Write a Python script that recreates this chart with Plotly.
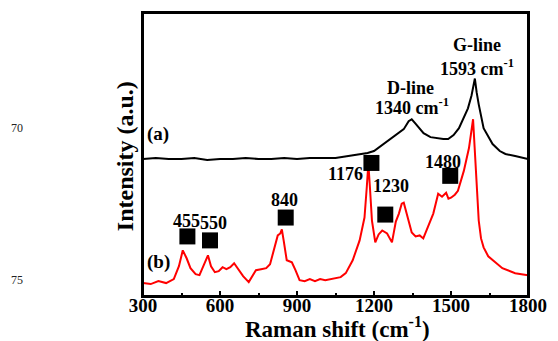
import plotly.graph_objects as go

# ---- data ----
a_x = [300, 350, 400, 450, 500, 550, 600, 650, 700, 750, 800, 850, 900, 950, 1000,
       1050, 1100, 1150, 1175, 1200, 1251, 1290, 1316, 1335, 1347, 1360, 1393, 1420,
       1443, 1470, 1489, 1510, 1531, 1550, 1566, 1580, 1593, 1600, 1608, 1627, 1645,
       1662, 1690, 1712, 1750, 1800]
a_y = [138, 139, 138, 138, 139, 137, 138, 138, 139, 138, 138, 139, 138, 139, 139,
       139, 141, 143, 144, 146, 156, 163, 168, 176, 178, 174, 164, 160,
       159, 158, 158, 162, 169, 179, 189, 202, 219, 205, 193, 169, 160,
       153, 146, 143, 141, 138]

b_x = [300, 330, 360, 390, 420, 440, 455, 470, 485, 505, 520, 540, 553, 565, 580,
       595, 610, 625, 640, 655, 670, 690, 712, 725, 740, 760, 780, 795, 810, 825,
       835, 841, 848, 860, 870, 880, 894, 910, 930, 950, 970, 990, 1010, 1030, 1050,
       1070, 1090, 1117, 1144, 1155, 1163, 1172, 1178, 1184, 1192, 1205, 1218, 1232,
       1251, 1270, 1285, 1297, 1308, 1316, 1332, 1347, 1362, 1378, 1392, 1405, 1431,
       1450, 1465, 1481, 1490, 1500, 1515, 1527, 1550, 1570, 1580, 1586, 1592, 1597,
       1608, 1617, 1627, 1645, 1662, 1700, 1750, 1775, 1800]
b_y = [13, 12, 15, 13, 17, 30, 46, 38, 28, 22, 21, 33, 41, 30, 24,
       25, 29, 27, 29, 33, 27, 20, 14, 20, 26, 27, 28, 32, 46, 61,
       63, 67, 56, 36, 35, 34, 26, 16, 15, 17, 15, 17, 16, 17, 18,
       19, 23, 36, 56, 70, 79, 110, 133, 110, 76, 54, 62, 66,
       63, 54, 75, 83, 93, 94, 79, 64, 60, 61, 58, 66, 83,
       103, 100, 104, 98, 99, 102, 106, 126, 149, 170, 178, 150, 126,
       76, 58, 49, 40, 36, 28, 23, 22, 21]

sq_x = [473, 561, 856, 1190, 1244, 1497]
sq_y = [60, 56, 79, 134, 82, 121]

peak_labels = ["455", "550", "840", "1176", "1230", "1480"]
label_x = [468, 575, 853, 1090, 1265, 1470]
label_y = [76, 74, 97, 123, 111, 135]

tick_vals = [300, 600, 900, 1200, 1500, 1800]
tick_text = ["300", "600", "900", "1200", "1500", "1800"]
minor_vals = [450, 750, 1050, 1350, 1650]

FONT = "Liberation Serif, Times New Roman, serif"

fig = go.Figure()
fig.add_trace(go.Scatter(x=a_x, y=a_y, mode="lines",
                         line=dict(color="#000000", width=2), showlegend=False))
fig.add_trace(go.Scatter(x=b_x, y=b_y, mode="lines",
                         line=dict(color="#ff0000", width=2), showlegend=False))
fig.add_trace(go.Scatter(x=sq_x, y=sq_y, mode="markers",
                         marker=dict(symbol="square", size=16, color="#000000"),
                         showlegend=False))

def bfont(size, color="black"):
    return dict(family=FONT, size=size, color=color, weight="bold")

C = dict(xanchor="center", yanchor="middle", showarrow=False)

ann = []
for t, x, y in zip(peak_labels, label_x, label_y):
    ann.append(dict(x=x, y=y, xref="x", yref="y", text=t, font=bfont(18), **C))

ann += [
    dict(x=360, y=163, xref="x", yref="y", text="(a)", font=bfont(19), **C),
    dict(x=362, y=34, xref="x", yref="y", text="(b)", font=bfont(19), **C),
    dict(x=1343, y=209, xref="x", yref="y", text="D-line", font=bfont(18), **C),
    dict(x=1347, y=191, xref="x", yref="y", text="1340 cm<sup>-1</sup>", font=bfont(18), **C),
    dict(x=1600, y=253, xref="x", yref="y", text="G-line", font=bfont(18), **C),
    dict(x=1600, y=230, xref="x", yref="y", text="1593 cm<sup>-1</sup>", font=bfont(18), **C),
    # axis titles
    dict(x=-0.046, y=0.495, xref="paper", yref="paper", text="Intensity (a.u.)",
         textangle=-90, font=bfont(24), **C),
    dict(x=0.505, y=-0.112, xref="paper", yref="paper", text="Raman shift (cm<sup>-1</sup>)",
         font=bfont(23), **C),
    # stray labels at left margin
    dict(x=-0.327, y=0.593, xref="paper", yref="paper", text="70",
         font=dict(family=FONT, size=12, color="#222222"), **C),
    dict(x=-0.327, y=0.056, xref="paper", yref="paper", text="75",
         font=dict(family=FONT, size=12, color="#222222"), **C),
]

fig.update_layout(
    width=558, height=341,
    margin=dict(l=143, r=24, t=11, b=45),
    paper_bgcolor="white", plot_bgcolor="white",
    annotations=ann,
    shapes=[dict(type="rect", xref="paper", yref="paper", x0=0, x1=1, y0=0, y1=1,
                 line=dict(color="black", width=2), layer="above")],
    xaxis=dict(range=[300, 1800], tickmode="array", tickvals=tick_vals, ticktext=tick_text,
               ticks="inside", ticklen=5, tickwidth=1.5, tickcolor="black",
               minor=dict(ticks="inside", ticklen=3, tickwidth=1.5, tickcolor="black",
                          tickmode="array", tickvals=minor_vals),
               showline=True, linecolor="black", linewidth=2, mirror=True,
               showgrid=False, zeroline=False, ticklabelstandoff=-9,
               tickfont=bfont(19)),
    yaxis=dict(range=[0, 285], showticklabels=False, ticks="",
               showline=True, linecolor="black", linewidth=2, mirror=True,
               showgrid=False, zeroline=False),
)

fig.write_html("out.html", config={"displayModeBar": False},
               post_script="document.body.style.margin='0';")
